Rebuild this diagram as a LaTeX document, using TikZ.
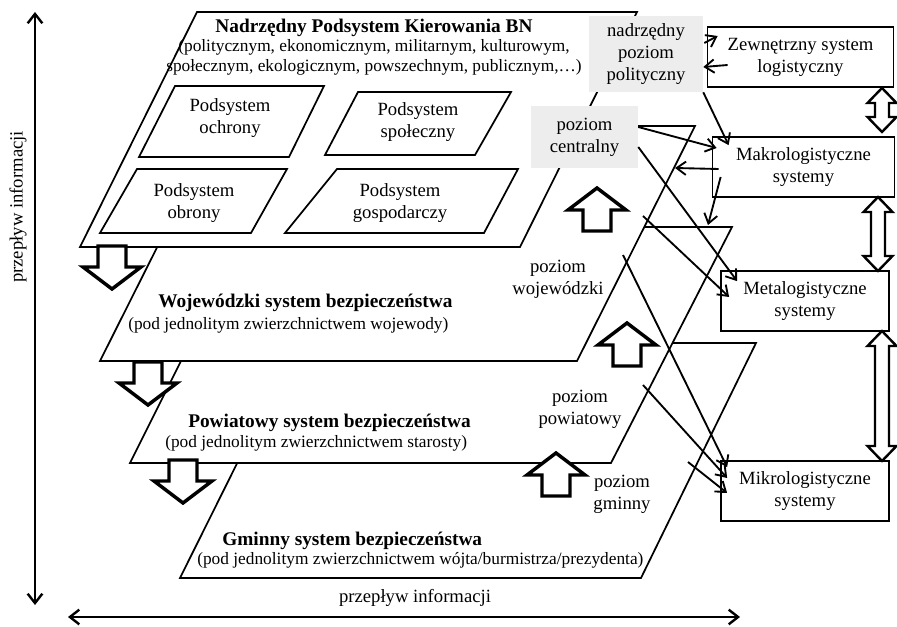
\documentclass[tikz,border=0pt]{standalone}
\usepackage{fontspec}
\setmainfont{Liberation Serif}
\usetikzlibrary{arrows.meta}

\begin{document}
        \begin{tikzpicture}[
            x=0.75pt, y=-0.75pt,
            every node/.style={font=\fontsize{14}{16.5}\selectfont},
            plane/.style={draw, fill=white, line width=1.3pt},
            level/.style={fill=black!7, inner sep=0pt, align=center},
            logbox/.style={draw, fill=white, line width=1.3pt, inner sep=0pt, align=center, minimum height=45pt},
            lbl/.style={align=center, inner sep=0pt},
            title/.style={anchor=base west, inner sep=0pt, font=\fontsize{14.5}{16.5}\selectfont\bfseries},
            subtitle/.style={anchor=base west, inner sep=0pt, font=\fontsize{13}{15}\selectfont},
            blockarrow/.style={draw, fill=white, line width=2.6pt, line join=miter},
            flow/.style={line width=1.4pt, -{Straight Barb[length=7pt, width=10pt, line width=1.4pt]}},
            bigflow/.style={line width=1.8pt, {Straight Barb[length=7pt, width=11pt, line width=1.8pt]}-{Straight Barb[length=7pt, width=11pt, line width=1.8pt]}},
            pics/upblock/.style={code={
                \draw[blockarrow] (0,0) -- (29,22) -- (14,22) -- (14,43) -- (-14,43) -- (-14,22) -- (-29,22) -- cycle;
            }},
            pics/dblblock/.style={code={
                \draw[blockarrow, line width=1.8pt] (0,0) -- (14.5,15) -- (7,15) -- (7,#1-15) -- (14.5,#1-15) -- (0,#1) -- (-14.5,#1-15) -- (-7,#1-15) -- (-7,15) -- (-14.5,15) -- cycle;
            }}
        ]
            \useasboundingbox (0,0) rectangle (897,627);

            \draw[plane] (297,343) -- (756,343) -- (641,578) -- (180,578) -- cycle;
            \draw[plane] (248,227) -- (732,227) -- (611,463) -- (130,463) -- cycle;
            \draw[plane] (218,126) -- (695,126) -- (577,361) -- (100,361) -- cycle;
            \draw[plane] (197,12) -- (637,12) -- (520,247) -- (80,247) -- cycle;

            \draw[plane] (175,86) -- (324,86) -- (289,157) -- (139,157) -- cycle;
            \draw[plane] (358,92) -- (511,92) -- (475,155) -- (325,155) -- cycle;
            \draw[plane] (137,169) -- (287,169) -- (251,233) -- (100,233) -- cycle;
            \draw[plane] (337,169) -- (518,169) -- (484,233) -- (285,233) -- cycle;

            \node[lbl, font=\fontsize{13}{14.6}\selectfont] (nadrz) at (374,47)
                {{\fontsize{14.5}{14.6}\selectfont\bfseries Nadrzędny Podsystem Kierowania BN}\\(politycznym, ekonomicznym, militarnym, kulturowym,\\społecznym, ekologicznym, powszechnym, publicznym,\dots)};
            \node[lbl] (ochrona) at (230,118) {Podsystem\\ochrony};
            \node[lbl] (spoleczny) at (418,122) {Podsystem\\społeczny};
            \node[lbl] (obrona) at (194,203) {Podsystem\\obrony};
            \node[lbl] (gosp) at (400,203) {Podsystem\\gospodarczy};

            \node[title] (woj-title) at (158,308) {Wojewódzki system bezpieczeństwa};
            \node[subtitle] (woj-sub) at (128,330) {(pod jednolitym zwierzchnictwem wojewody)};
            \node[title] (pow-title) at (188,428) {Powiatowy system bezpieczeństwa};
            \node[subtitle] (pow-sub) at (165,448) {(pod jednolitym zwierzchnictwem starosty)};
            \node[title] (gmi-title) at (222,545) {Gminny system bezpieczeństwa};
            \node[subtitle] (gmi-sub) at (197,564) {(pod jednolitym zwierzchnictwem wójta/burmistrza/prezydenta)};

            \node[level, minimum width=85.5pt, minimum height=57pt] (polit) at (646,54) {nadrzędny\\poziom\\polityczny};
            \node[level, minimum width=80.25pt, minimum height=46.5pt] (centr) at (584.5,137) {poziom\\centralny};
            \node[lbl] (wojl) at (558,279) {poziom\\wojewódzki};
            \node[lbl] (powl) at (580,409) {poziom\\powiatowy};
            \node[lbl] (gmil) at (622,494) {poziom\\gminny};

            \node[logbox, minimum width=139.5pt] (zewn) at (800.5,57) {Zewnętrzny system\\logistyczny};
            \node[logbox, minimum width=136.5pt] (makro) at (803.5,167) {Makrologistyczne\\systemy};
            \node[logbox, minimum width=126pt] (meta) at (805,301) {Metalogistyczne\\systemy};
            \node[logbox, minimum width=126pt] (mikro) at (805,491) {Mikrologistyczne\\systemy};

            \pic at (882,88) {dblblock=44};
            \pic at (878,197) {dblblock=74};
            \pic at (882,331) {dblblock=130};

            \pic at (597,188) {upblock};
            \pic at (627,323) {upblock};
            \pic at (556,453) {upblock};
            \pic[rotate=180] at (112,289) {upblock};
            \pic[rotate=180] at (148,405) {upblock};
            \pic[rotate=180] at (183,503) {upblock};

            \coordinate (woj-edge) at (675,168);
            \coordinate (pow-top) at (708,225);
            \coordinate (woj-src) at (643,216);
            \coordinate (woj-src2) at (623,255);
            \coordinate (pow-src) at (643,385);
            \coordinate (gmi-src) at (688,462);

            \draw[flow] ([shift={(1,-11)}]polit.east) -- ([shift={(11,-21)}]zewn.west);
            \draw[flow] ([shift={(21,8)}]zewn.west) -- ([shift={(0,13)}]polit.east);
            \draw[flow] (polit.south east) -- ([shift={(17,9)}]makro.north west);
            \draw[flow] ([shift={(0,-10)}]centr.east) -- ([shift={(5,-19)}]makro.west);
            \draw[flow] ([shift={(7,2)}]makro.west) -- (woj-edge);
            \draw[flow] ([shift={(9,10)}]makro.west) -- (pow-top);
            \draw[flow] ([shift={(0,10)}]centr.east) -- ([shift={(17,11)}]meta.north west);
            \draw[flow] (woj-src) -- ([shift={(9,-4)}]meta.west);
            \draw[flow] (woj-src2) -- ([shift={(7,7)}]mikro.north west);
            \draw[flow] (pow-src) -- ([shift={(7,-13)}]mikro.west);
            \draw[flow] (gmi-src) -- ([shift={(7,2)}]mikro.west);

            \coordinate (info-top) at (35,12);
            \coordinate (info-bot) at (35,605);
            \coordinate (info-left) at (68,617);
            \coordinate (info-right) at (740,617);
            \draw[bigflow] (info-top) -- (info-bot);
            \draw[bigflow] (info-left) -- (info-right);
            \node[rotate=90] (info-v) at (18,207) {przepływ informacji};
            \node (info-h) at (415,598) {przepływ informacji};
        \end{tikzpicture}
\end{document}
